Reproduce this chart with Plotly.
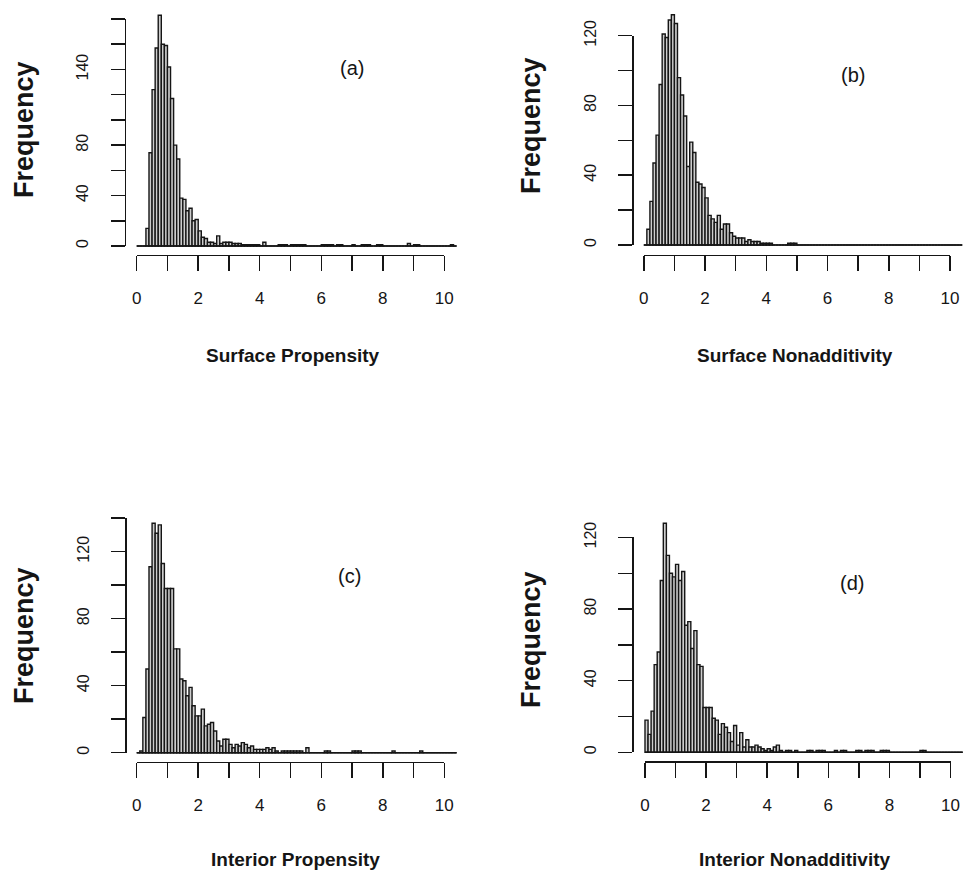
import plotly.graph_objects as go

# ---------------- data ----------------
bin_start = 0.0
bin_width = 0.1
n_bins = 104

counts_a = [0, 0, 0, 14, 74, 124, 157, 183, 160, 159,
            142, 117, 80, 69, 38, 37, 28, 30, 20, 21,
            12, 7, 6, 3, 3, 2, 8, 2, 3, 3,
            3, 2, 2, 2, 1, 1, 1, 1, 1, 1,
            0, 3, 0, 0, 0, 0, 1, 1, 1, 0,
            1, 1, 1, 1, 1, 0, 0, 0, 0, 0,
            1, 1, 1, 1, 0, 1, 1, 0, 0, 0,
            1, 0, 0, 1, 1, 1, 0, 0, 1, 1,
            0, 0, 0, 0, 0, 0, 0, 0, 2, 0,
            1, 1, 0, 0, 0, 0, 0, 0, 0, 0,
            0, 0, 1, 0]

counts_b = [0, 9, 25, 47, 63, 92, 121, 119, 129, 132,
            127, 96, 86, 74, 45, 59, 53, 36, 35, 33,
            27, 17, 15, 13, 17, 9, 12, 12, 7, 5,
            4, 4, 4, 2, 3, 2, 2, 2, 1, 1,
            1, 1, 0, 0, 0, 0, 0, 1, 1, 1,
            0, 0, 0, 0, 0, 0, 0, 0, 0, 0,
            0, 0, 0, 0, 0, 0, 0, 0, 0, 0,
            0, 0, 0, 0, 0, 0, 0, 0, 0, 0,
            0, 0, 0, 0, 0, 0, 0, 0, 0, 0,
            0, 0, 0, 0, 0, 0, 0, 0, 0, 0,
            0, 0, 0, 0]

counts_c = [0, 1, 21, 50, 111, 137, 131, 136, 113, 98,
            98, 98, 62, 62, 44, 43, 34, 39, 28, 22,
            22, 26, 16, 17, 18, 13, 7, 4, 8, 8,
            5, 3, 5, 4, 6, 5, 3, 4, 2, 2,
            2, 2, 3, 2, 3, 1, 0, 1, 1, 1,
            1, 1, 1, 1, 0, 3, 0, 0, 0, 0,
            0, 1, 1, 0, 0, 0, 0, 0, 0, 0,
            1, 1, 1, 0, 0, 0, 0, 0, 0, 0,
            0, 0, 0, 1, 0, 0, 0, 0, 0, 0,
            0, 0, 1, 0, 0, 0, 0, 0, 0, 0,
            0, 0, 0, 0]

counts_d = [18, 10, 23, 49, 56, 96, 128, 110, 100, 98,
            105, 96, 101, 71, 73, 58, 68, 49, 48, 25,
            25, 25, 19, 18, 10, 16, 14, 11, 6, 15,
            4, 11, 3, 7, 3, 3, 4, 3, 2, 1,
            2, 1, 3, 4, 1, 0, 1, 1, 0, 1,
            0, 0, 0, 1, 1, 0, 1, 1, 1, 0,
            0, 0, 1, 0, 1, 1, 0, 0, 0, 1,
            1, 0, 1, 1, 1, 0, 0, 1, 1, 1,
            0, 0, 0, 0, 0, 0, 0, 0, 0, 0,
            1, 1, 0, 0, 0, 0, 0, 0, 0, 0,
            0, 0, 0, 0]

x_titles = ["Surface Propensity", "Surface Nonadditivity",
            "Interior Propensity", "Interior Nonadditivity"]
panel_tags = ["(a)", "(b)", "(c)", "(d)"]
y_title = "Frequency"

x_tickvals = [0, 1, 2, 3, 4, 5, 6, 7, 8, 9, 10]
x_ticktext = ["0", "", "2", "", "4", "", "6", "", "8", "", "10"]

y_tickvals_a = [0, 20, 40, 60, 80, 100, 120, 140, 160, 180]
y_ticktext_a = ["0", "", "40", "", "80", "", "", "140", "", ""]
y_tickvals_b = [0, 20, 40, 60, 80, 100, 120]
y_ticktext_b = ["0", "", "40", "", "80", "", "120"]
y_tickvals_c = [0, 20, 40, 60, 80, 100, 120, 140]
y_ticktext_c = ["0", "", "40", "", "80", "", "120", ""]
y_tickvals_d = [0, 20, 40, 60, 80, 100, 120]
y_ticktext_d = ["0", "", "40", "", "80", "", "120"]

# ---------------- layout geometry (pixels) ----------------
W, H = 966, 873
FONT = "Liberation Sans, Arial, sans-serif"
INK = "#151515"

panels = [
    dict(counts=counts_a, x0=136.7, pxu=30.76, y0=246.0, pyc=1.261, ytop_px=19.0,
         yax_x=124.5, xax_y=254.5, ymax=195, yt=y_tickvals_a, ytt=y_ticktext_a,
         ylab=(24, 130), xlab=(293, 355), tag=(352, 68)),
    dict(counts=counts_b, x0=643.8, pxu=30.62, y0=245.0, pyc=1.744, ytop_px=35.7,
         yax_x=632.3, xax_y=254.5, ymax=140, yt=y_tickvals_b, ytt=y_ticktext_b,
         ylab=(531, 126), xlab=(795, 355), tag=(853, 75)),
    dict(counts=counts_c, x0=136.7, pxu=30.76, y0=752.7, pyc=1.675, ytop_px=518.0,
         yax_x=125.0, xax_y=761.5, ymax=145, yt=y_tickvals_c, ytt=y_ticktext_c,
         ylab=(24, 636), xlab=(295, 859), tag=(349, 576)),
    dict(counts=counts_d, x0=645.0, pxu=30.55, y0=752.3, pyc=1.79, ytop_px=537.0,
         yax_x=632.3, xax_y=761.0, ymax=135, yt=y_tickvals_d, ytt=y_ticktext_d,
         ylab=(531, 640), xlab=(795, 859), tag=(852, 583)),
]


def xd(px):
    return min(max(px / W, 0.0), 1.0)


def yd(py):
    return min(max(1 - py / H, 0.0), 1.0)


fig = go.Figure()
layout = dict(width=W, height=H,
              margin=dict(l=0, r=0, t=0, b=0, pad=0, autoexpand=False),
              plot_bgcolor="rgba(0,0,0,0)", paper_bgcolor="white",
              showlegend=False, bargap=0, barmode="overlay")
annotations = []

edges = [bin_start + bin_width * i for i in range(n_bins + 1)]
centers = [bin_start + bin_width * (i + 0.5) for i in range(n_bins)]
XLO, XHI = -0.5, 10.45

for k, p in enumerate(panels):
    bi = 2 * k + 1          # bar axes
    di = 2 * k + 2          # display axes
    bx, by = f"x{bi}", f"y{bi}"
    dx, dy = f"x{di}", f"y{di}"

    # bar axes (hidden), calibrated to the pixel geometry
    L = p["x0"] + XLO * p["pxu"]
    R = p["x0"] + XHI * p["pxu"]
    B = p["y0"] + 4
    T = p["y0"] - p["ymax"] * p["pyc"]
    layout[f"xaxis{bi}"] = dict(domain=[xd(L), xd(R)], range=[XLO, XHI],
                                visible=False, anchor=by, fixedrange=True, automargin=False)
    layout[f"yaxis{bi}"] = dict(domain=[yd(B), yd(T)], range=[-4 / p["pyc"], p["ymax"]],
                                visible=False, anchor=bx, fixedrange=True, automargin=False)

    fig.add_trace(go.Bar(x=centers, y=p["counts"], width=bin_width,
                         marker=dict(color="#cdcdcd", line=dict(color=INK, width=1.4)),
                         xaxis=bx, yaxis=by, hoverinfo="skip"))
    fig.add_trace(go.Scatter(x=[edges[0], edges[-1]], y=[0, 0], mode="lines",
                             line=dict(color=INK, width=1.6),
                             xaxis=bx, yaxis=by, hoverinfo="skip"))

    # display axes (R-style, spanning tick range only)
    ytopval = (p["y0"] - p["ytop_px"]) / p["pyc"]
    layout[f"xaxis{di}"] = dict(domain=[xd(p["x0"]), xd(p["x0"] + 10 * p["pxu"])],
                                range=[0, 10], anchor="free", position=yd(p["xax_y"]),
                                showline=True, linecolor=INK, linewidth=1.5,
                                ticks="outside", ticklen=15, tickwidth=1.5, tickcolor=INK,
                                tickvals=x_tickvals, ticktext=x_ticktext,
                                ticklabelstandoff=13,
                                tickfont=dict(family=FONT, size=17, color=INK),
                                showgrid=False, zeroline=False, fixedrange=True,
                                automargin=False)
    layout[f"yaxis{di}"] = dict(domain=[yd(p["y0"]), yd(p["ytop_px"])],
                                range=[0, ytopval], anchor="free", position=xd(p["yax_x"]),
                                side="left",
                                showline=True, linecolor=INK, linewidth=1.5,
                                ticks="outside", ticklen=14, tickwidth=1.5, tickcolor=INK,
                                tickvals=p["yt"], ticktext=p["ytt"], tickangle=-90,
                                ticklabelstandoff=16,
                                tickfont=dict(family=FONT, size=16, color=INK),
                                showgrid=False, zeroline=False, fixedrange=True,
                                automargin=False)
    fig.add_trace(go.Scatter(x=[None], y=[None], mode="markers", xaxis=dx, yaxis=dy,
                             hoverinfo="skip", showlegend=False))

    annotations.append(dict(text=f"<b>{y_title}</b>", x=xd(p["ylab"][0]), y=yd(p["ylab"][1]),
                            xref="paper", yref="paper", showarrow=False, textangle=-90,
                            xanchor="center", yanchor="middle",
                            font=dict(family=FONT, size=27, color=INK)))
    annotations.append(dict(text=f"<b>{x_titles[k]}</b>", x=xd(p["xlab"][0]), y=yd(p["xlab"][1]),
                            xref="paper", yref="paper", showarrow=False,
                            xanchor="center", yanchor="middle",
                            font=dict(family=FONT, size=19, color=INK)))
    annotations.append(dict(text=panel_tags[k], x=xd(p["tag"][0]), y=yd(p["tag"][1]),
                            xref="paper", yref="paper", showarrow=False,
                            xanchor="center", yanchor="middle",
                            font=dict(family=FONT, size=20, color=INK)))

layout["annotations"] = annotations
fig.update_layout(**layout)
fig.write_html("out.html",
               config={"displayModeBar": False, "staticPlot": True},
               post_script="document.body.style.margin='0';document.body.style.padding='0';"
                           "document.body.style.overflow='hidden';")
